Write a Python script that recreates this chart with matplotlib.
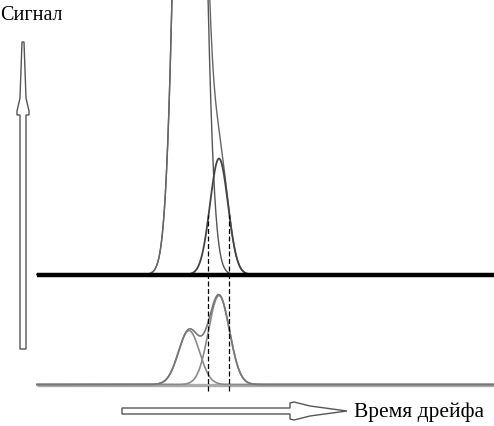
import numpy as np
import matplotlib.pyplot as plt
from matplotlib.patches import Polygon

## Peak parameters (pixel-like units, x = drift time, y = signal)
# upper trace: huge peak + small peak + their sum
top_centers = [190.0, 219.0]
top_sigmas = [10.7, 9.0]
top_amps = [1145.0, 116.0]
# lower trace: two resolved peaks + their sum
bot_centers = [189.0, 219.0]
bot_sigmas = [10.5, 10.5]
bot_amps = [54.0, 89.0]

top_base = 151.5
bot_base = 41.5
x_start, x_end = 37.0, 494.0

# FWHM marks of the small peak
fwhm_marks = [208.0, 229.0]

y_label = 'Сигнал'
x_label = 'Время дрейфа'


def gauss(x, c, s, a):
    return a * np.exp(-0.5 * ((x - c) / s) ** 2)


fig = plt.figure(figsize=(4.94, 4.27), dpi=100)
ax = fig.add_axes((0, 0, 1, 1))
ax.set_xlim(0, 494)
ax.set_ylim(0, 427)
ax.axis('off')

x = np.linspace(x_start, x_end, 3000)

## upper trace
g_top = [gauss(x, c, s, a) for c, s, a in zip(top_centers, top_sigmas, top_amps)]
ax.plot(x, top_base + g_top[0], color='#555555', lw=1.0, zorder=3)
ax.plot(x, top_base + g_top[0] + g_top[1], color='#666666', lw=1.0, zorder=3)
ax.plot(x, top_base + g_top[1], color='#444444', lw=1.3, zorder=4)
ax.plot([x_start, x_end], [top_base, top_base], color='black', lw=3.2, zorder=5,
        solid_capstyle='butt')

## lower trace
g_bot = [gauss(x, c, s, a) for c, s, a in zip(bot_centers, bot_sigmas, bot_amps)]
ax.plot(x, bot_base + g_bot[0], color='#8a8a8a', lw=1.2, zorder=3)
ax.plot(x, bot_base + g_bot[1], color='#8a8a8a', lw=1.2, zorder=3)
ax.plot(x, bot_base + g_bot[0] + g_bot[1], color='#777777', lw=1.2, zorder=3)
ax.plot([x_start, x_end], [bot_base, bot_base], color='#ababab', lw=2.4, zorder=2,
        solid_capstyle='butt')

## dashed FWHM lines
for xm in fwhm_marks:
    ax.plot([xm, xm], [bot_base - 6, top_base + 60], color='black', lw=0.9,
            ls=(0, (4, 2)), zorder=6)

## hollow arrows
v_arrow = [(20, 77), (26, 77), (26, 311), (29, 311), (29, 315), (26, 328),
           (24, 384), (22, 384), (20, 328), (17, 315), (17, 311), (20, 311)]
ax.add_patch(Polygon(v_arrow, closed=True, facecolor='white', edgecolor='#555555',
                     lw=1.0, zorder=5))
h_arrow = [(122, 12), (290, 12), (290, 7), (294, 6), (310, 10), (347, 15),
           (310, 20), (294, 24), (290, 23), (290, 18), (122, 18)]
ax.add_patch(Polygon(h_arrow, closed=True, facecolor='white', edgecolor='#555555',
                     lw=1.0, zorder=5))

ax.text(0, 412, y_label, fontsize=14.5, family='Liberation Serif', ha='left',
        va='center')
ax.text(354, 15, x_label, fontsize=15.5, family='Liberation Serif', ha='left',
        va='center')

fig.savefig('out.png', dpi=100)
